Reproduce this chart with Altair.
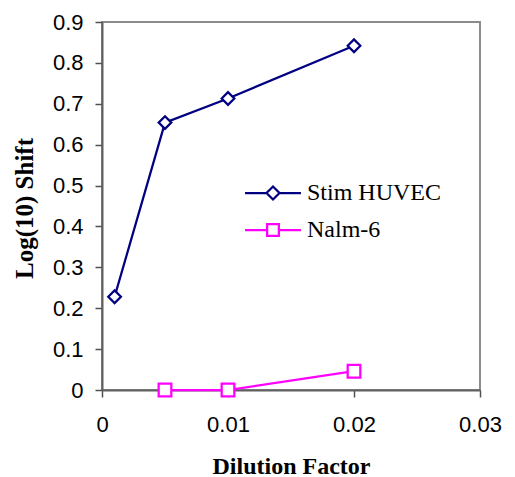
import altair as alt
import pandas as pd

series_names = ["Stim HUVEC", "Nalm-6"]
huvec_x = [0.001, 0.005, 0.01, 0.02]
huvec_y = [0.228, 0.654, 0.713, 0.842]
nalm_x = [0.005, 0.01, 0.02]
nalm_y = [0.0, 0.0, 0.046]
x_ticks = [0, 0.01, 0.02, 0.03]
y_ticks = [0, 0.1, 0.2, 0.3, 0.4, 0.5, 0.6, 0.7, 0.8, 0.9]
colors = ["#000080", "#FF00FF"]
shapes = ["diamond", "square"]
# legend symbols: a short line through the marker (unit box -1..1 = marker size)
legend_shapes = [
    "M-4.3,0L-1,0M1,0L4.3,0M-1,0L0,-1L1,0L0,1Z",
    "M-4.3,0L-0.9,0M0.9,0L4.3,0M-0.9,-0.9L0.9,-0.9L0.9,0.9L-0.9,0.9Z",
]

df = pd.DataFrame({
    "x": huvec_x + nalm_x,
    "y": huvec_y + nalm_y,
    "series": [series_names[0]] * len(huvec_x) + [series_names[1]] * len(nalm_x),
})

xenc = alt.X("x:Q", title="Dilution Factor",
             scale=alt.Scale(domain=[0, 0.03], nice=False, zero=False),
             axis=alt.Axis(values=x_ticks, format="~g", labelPadding=17,
                           labelFlush=False,
                           titleY=83, titleBaseline="alphabetic"))
yenc = alt.Y("y:Q", title="Log(10) Shift",
             scale=alt.Scale(domain=[0, 0.9], nice=False),
             axis=alt.Axis(values=y_ticks, format="~g", labelPadding=12,
                           labelFlush=False, titleFontSize=25,
                           titleX=-70, titleY=186, titleAngle=270,
                           titleAlign="center", titleBaseline="alphabetic"))
stroke_scale = alt.Scale(domain=series_names, range=colors)

legend_cfg = alt.Legend(
    title=None, orient="none", legendX=159, legendY=159,
    padding=0, symbolOffset=0, symbolSize=169,
    symbolStrokeWidth=2.25, symbolFillColor="white", labelOffset=22,
    labelFont="Liberation Serif", labelFontSize=24,
    labelColor="black", rowPadding=13,
)

line = alt.Chart(df).mark_line(strokeWidth=2.25).encode(
    x=xenc, y=yenc,
    stroke=alt.Stroke("series:N", scale=stroke_scale, legend=None),
    detail="series:N")
pts = alt.Chart(df).mark_point(filled=False, size=160, strokeWidth=2.25, opacity=1).encode(
    x=xenc, y=yenc,
    stroke=alt.Stroke("series:N", scale=stroke_scale, legend=None),
    shape=alt.Shape("series:N", scale=alt.Scale(domain=series_names, range=shapes), legend=None),
    fill=alt.value("white"))
leg = alt.Chart(df).transform_filter("false").mark_point(
    filled=False, fill="white", strokeWidth=2.25, opacity=1).encode(
    x=xenc, y=yenc,
    stroke=alt.Stroke("series:N", scale=stroke_scale, title=None, legend=legend_cfg),
    shape=alt.Shape("series:N", scale=alt.Scale(domain=series_names, range=legend_shapes),
                    title=None, legend=legend_cfg))

chart = alt.layer(line, pts, leg).resolve_scale(
    shape="independent", stroke="independent"
).resolve_legend(
    shape="independent", stroke="independent"
).properties(
    width=378, height=368,
    autosize=alt.AutoSizeParams(type="none"),
    padding={"left": 94, "top": 14, "right": 25, "bottom": 87},
).configure_view(
    stroke="#8c8c8c", strokeWidth=2
).configure_axis(
    grid=False, domainColor="#606060", domainWidth=2,
    tickColor="#505050", tickWidth=1.5, tickSize=7,
    labelFont="Liberation Sans", labelFontSize=22, labelColor="black",
    titleFont="Liberation Serif", titleFontSize=24, titleFontWeight="bold",
    titleColor="black",
)

chart.save("out.html", embed_options={"renderer": "svg", "actions": False})
